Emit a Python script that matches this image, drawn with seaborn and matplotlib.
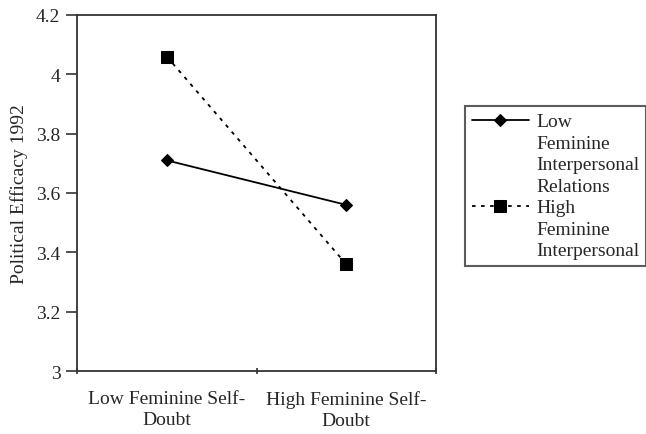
import seaborn as sns
import matplotlib.pyplot as plt
import pandas as pd

# data
categories = ['Low Feminine Self-\nDoubt', 'High Feminine Self-\nDoubt']
low_relations = [3.71, 3.56]
high_relations = [4.06, 3.36]
series_names = ['Low Feminine Interpersonal Relations', 'High Feminine Interpersonal']
legend_lines = [['Low', 'Feminine', 'Interpersonal', 'Relations'],
                ['High', 'Feminine', 'Interpersonal']]

sns.set_style('white')
plt.rcParams['font.family'] = ['Liberation Serif', 'DejaVu Serif']
plt.rcParams['font.size'] = 14

df = pd.DataFrame({
    'pos': [0, 1, 0, 1],
    'value': low_relations + high_relations,
    'series': [series_names[0]] * 2 + [series_names[1]] * 2,
})

fig = plt.figure(figsize=(6.46, 4.35), dpi=100)
ax = fig.add_axes([77 / 646, 1 - 372 / 435, (436 - 77) / 646, (372 - 16) / 435])

sns.lineplot(data=df[df.series == series_names[0]], x='pos', y='value', ax=ax,
             color='black', lw=1.3, marker='D', markersize=6.5,
             markeredgecolor='black', legend=False)
sns.lineplot(data=df[df.series == series_names[1]], x='pos', y='value', ax=ax,
             color='black', lw=1.3, linestyle=(0, (2, 3)), marker='s', markersize=8.5,
             markeredgecolor='black', legend=False)

ax.set_xlim(-0.5, 1.5)
ax.set_ylim(3, 4.2)
ax.set_yticks([3, 3.2, 3.4, 3.6, 3.8, 4, 4.2])
ax.set_yticklabels(['3', '3.2', '3.4', '3.6', '3.8', '4', '4.2'])
ax.set_xticks([0, 1])
ax.set_xticklabels(categories, linespacing=1.3)
ax.set_xticks([-0.5, 0.5, 1.5], minor=True)
ax.tick_params(axis='x', which='major', length=0, pad=14)
ax.tick_params(axis='x', which='minor', bottom=True, length=4, width=1.2, color='#333333', direction='inout')
ax.tick_params(axis='y', left=True, length=8, width=1.2, color='#333333', direction='out', pad=4)
ax.set_xlabel('')
ax.set_ylabel('Political Efficacy 1992', labelpad=6)
for s in ax.spines.values():
    s.set_color('#333333')
    s.set_linewidth(1.3)

# legend: one row per text line, marker only on the first line of each series
lines = ax.get_lines()
handles, labels = [], []
for line, words in zip(lines, legend_lines):
    for i, w in enumerate(words):
        if i == 0:
            handles.append(line)
        else:
            handles.append(plt.Line2D([], [], color='none'))
        labels.append(w)

leg = ax.legend(handles, labels, loc='upper left', bbox_to_anchor=(465 / 646, 1 - 107 / 435),
                bbox_transform=fig.transFigure, frameon=True, fancybox=False,
                handlelength=2.95, handletextpad=0.36, labelspacing=0.2,
                borderpad=0.35, borderaxespad=0)
leg.get_frame().set_edgecolor('#333333')
leg.get_frame().set_linewidth(1.5)

fig.savefig('out.png', dpi=100)
